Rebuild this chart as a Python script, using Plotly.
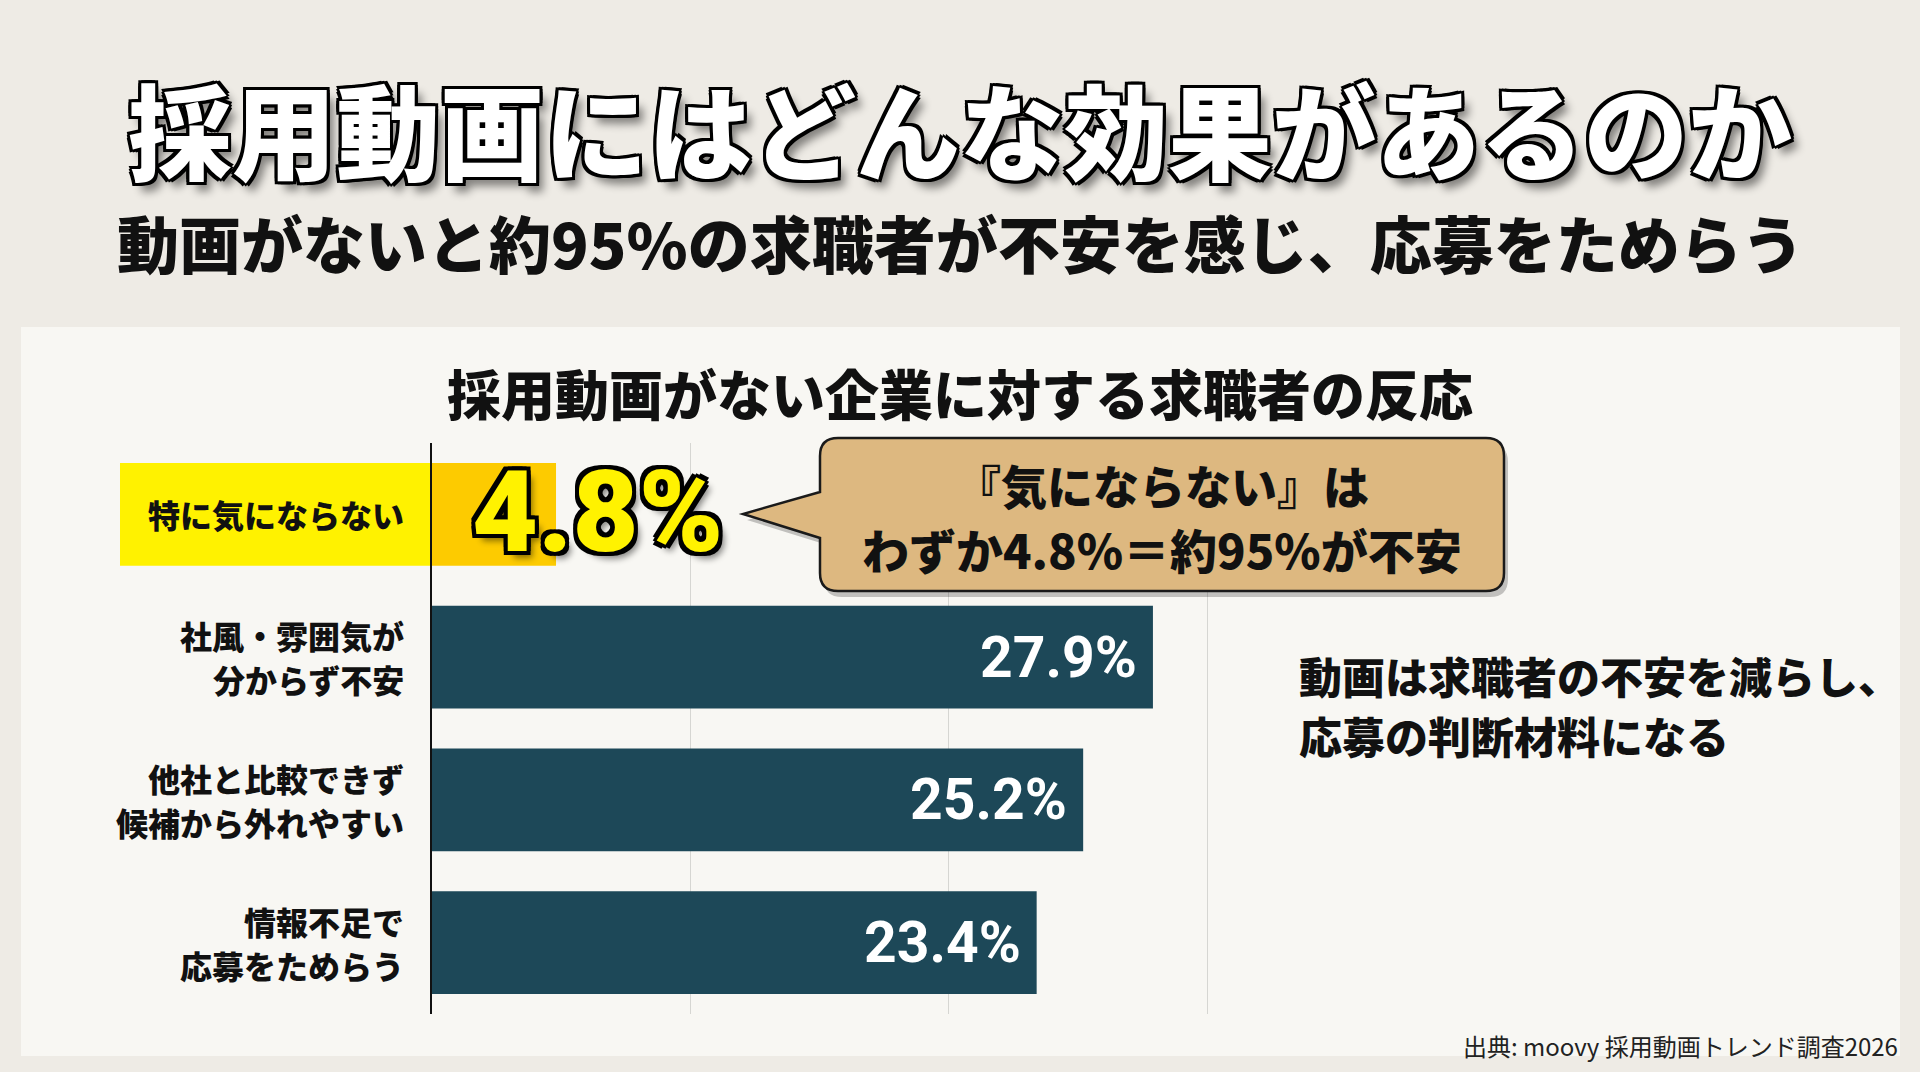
import plotly.graph_objects as go

# ---------------- data ----------------
categories = [
    "特に気にならない",
    "社風・雰囲気が<br>分からず不安",
    "他社と比較できず<br>候補から外れやすい",
    "情報不足で<br>応募をためらう",
]
values = [4.8, 27.9, 25.2, 23.4]
highlight_index = 0
x_ticks = [0, 10, 20, 30]

title_text = "採用動画にはどんな効果があるのか"
subtitle_text = "動画がないと約95%の求職者が不安を感じ、応募をためらう"
chart_title = "採用動画がない企業に対する求職者の反応"
bubble_lines = ["『気にならない』は", "わずか4.8%＝約95%が不安"]
note_lines = ["動画は求職者の不安を減らし、", "応募の判断材料になる"]
source_text = "出典: moovy 採用動画トレンド調査2026"

# ---------------- styling ----------------
W, H = 1920, 1072
JP = "Noto Sans CJK JP"
BG = "#EEEBE5"
PANEL = "#F8F7F3"
BAR = "#1D4858"
GOLD = "#FDCB00"
YELLOW = "#FFF200"
TAN = "#DDB880"
PX_PER_UNIT = 25.84
X0_PX = 432
X_MAX = 30.5
LABEL_SIZE = 32
LABEL_GAP = 44


def px(x):
    return x / W


def py(y):
    return 1 - y / H


def outline(w, shadow):
    s = []
    for dx in (-w, 0, w):
        for dy in (-w, 0, w):
            if dx or dy:
                s.append(f"{dx}px {dy}px 0 #000")
    s.append(shadow)
    return ", ".join(s)


bar_colors = [GOLD if i == highlight_index else BAR for i in range(len(values))]

fig = go.Figure()
fig.add_trace(go.Bar(
    y=categories,
    x=values,
    orientation="h",
    marker=dict(color=bar_colors, line=dict(width=0)),
    width=0.72,
    hoverinfo="skip",
))

annotations = []
# category labels (one text per line, right-aligned at the axis)
for c in categories:
    lines = c.split("<br>")
    n = len(lines)
    for k, line in enumerate(lines):
        annotations.append(dict(
            x=0, y=c, xref="x", yref="y", text=line, showarrow=False,
            xanchor="right", yanchor="middle", xshift=-26,
            yshift=((n - 1) / 2 - k) * LABEL_GAP,
            font=dict(family=JP, size=LABEL_SIZE, color="#111111", weight=900),
        ))

# value labels
for i, (c, v) in enumerate(zip(categories, values)):
    if i == highlight_index:
        annotations.append(dict(
            x=0, y=c, xref="x", yref="y", text=f"{v}%", showarrow=False,
            xanchor="left", yanchor="middle", xshift=38, yshift=2,
            font=dict(family="Roboto, " + JP, size=114, color=YELLOW, weight=900,
                      shadow=outline(4, "6px 7px 6px rgba(0,0,0,0.45)")),
        ))
    else:
        annotations.append(dict(
            x=v, y=c, xref="x", yref="y", text=f"{v}%", showarrow=False,
            xanchor="right", yanchor="middle", xshift=-14,
            font=dict(family="Roboto, " + JP, size=57, color="white", weight=700),
        ))

# titles & texts
annotations += [
    dict(x=0.5, y=py(127), xref="paper", yref="paper", text=title_text, showarrow=False,
         xanchor="center", yanchor="middle",
         font=dict(family=JP, size=104, color="white", weight=900,
                   shadow=outline(3, "7px 9px 8px rgba(0,0,0,0.45)"))),
    dict(x=0.5, y=py(242), xref="paper", yref="paper", text=subtitle_text, showarrow=False,
         xanchor="center", yanchor="middle",
         font=dict(family=JP, size=62, color="#111111", weight=900)),
    dict(x=0.5, y=py(392), xref="paper", yref="paper", text=chart_title, showarrow=False,
         xanchor="center", yanchor="middle",
         font=dict(family=JP, size=54, color="#111111", weight=900)),
    dict(x=px(1162), y=py(484), xref="paper", yref="paper", text=bubble_lines[0], showarrow=False,
         xanchor="center", yanchor="middle",
         font=dict(family=JP, size=46, color="#111111", weight=900)),
    dict(x=px(1162), y=py(548), xref="paper", yref="paper", text=bubble_lines[1], showarrow=False,
         xanchor="center", yanchor="middle",
         font=dict(family=JP, size=47, color="#111111", weight=900)),
    dict(x=px(1297), y=py(675), xref="paper", yref="paper", text=note_lines[0], showarrow=False,
         xanchor="left", yanchor="middle", align="left",
         font=dict(family=JP, size=43, color="#111111", weight=900)),
    dict(x=px(1297), y=py(735), xref="paper", yref="paper", text=note_lines[1], showarrow=False,
         xanchor="left", yanchor="middle", align="left",
         font=dict(family=JP, size=43, color="#111111", weight=900)),
    dict(x=px(1900), y=py(1045), xref="paper", yref="paper", text=source_text, showarrow=False,
         xanchor="right", yanchor="middle",
         font=dict(family=JP, size=24, color="#222222", weight=400)),
]


def bubble_path(L, T, R, B, r, tip, y1, y2, dx=0, dy=0):
    L, R, T, B = L + dx, R + dx, T + dy, B + dy
    tx, ty = tip[0] + dx, tip[1] + dy
    y1, y2 = y1 + dy, y2 + dy
    pts = [
        ("M", [(L + r, T)]), ("L", [(R - r, T)]), ("Q", [(R, T), (R, T + r)]),
        ("L", [(R, B - r)]), ("Q", [(R, B), (R - r, B)]), ("L", [(L + r, B)]),
        ("Q", [(L, B), (L, B - r)]), ("L", [(L, y2)]), ("L", [(tx, ty)]),
        ("L", [(L, y1)]), ("L", [(L, T + r)]), ("Q", [(L, T), (L + r, T)]),
    ]
    s = ""
    for cmd, ps in pts:
        s += cmd + " ".join(f"{px(a):.5f},{py(b):.5f}" for a, b in ps) + " "
    return s + "Z"


shapes = [
    # panel
    dict(type="rect", xref="paper", yref="paper", x0=px(21), x1=px(1900), y0=py(1056), y1=py(327),
         fillcolor=PANEL, line=dict(width=0), layer="below"),
    # highlighted label box
    dict(type="rect", xref="paper", yref="y", x0=px(120), x1=px(X0_PX), y0=highlight_index - 0.36,
         y1=highlight_index + 0.36, fillcolor=YELLOW, line=dict(width=0), layer="below"),
    # bubble shadow
    dict(type="path", xref="paper", yref="paper",
         path=bubble_path(820, 438, 1504, 591, 18, (743, 514), 492, 538, dx=4, dy=6),
         fillcolor="rgba(0,0,0,0.22)", line=dict(width=0), layer="above"),
    # bubble
    dict(type="path", xref="paper", yref="paper",
         path=bubble_path(820, 438, 1504, 591, 18, (743, 514), 492, 538),
         fillcolor=TAN, line=dict(color="#1a1a1a", width=2.5), layer="above"),
]

fig.update_layout(
    width=W, height=H,
    margin=dict(l=0, r=0, t=0, b=0),
    paper_bgcolor=BG,
    plot_bgcolor="rgba(0,0,0,0)",
    showlegend=False,
    bargap=0.28,
    annotations=annotations,
    shapes=shapes,
    xaxis=dict(
        domain=[px(X0_PX), px(X0_PX + X_MAX * PX_PER_UNIT)], range=[0, X_MAX],
        tickvals=x_ticks, showticklabels=False, showgrid=True,
        gridcolor="#D6D6D2", gridwidth=1.2, zeroline=False, showline=False,
        fixedrange=True,
    ),
    yaxis=dict(
        domain=[py(1014), py(443)],
        categoryorder="array", categoryarray=categories, autorange="reversed",
        showline=True, linecolor="#111111", linewidth=1.5,
        ticks="", showticklabels=False,
        showgrid=False, zeroline=False, fixedrange=True,
    ),
)

fig.write_html("out.html", config={"displayModeBar": False},
               post_script="document.body.style.margin='0';document.body.style.overflow='hidden';")
